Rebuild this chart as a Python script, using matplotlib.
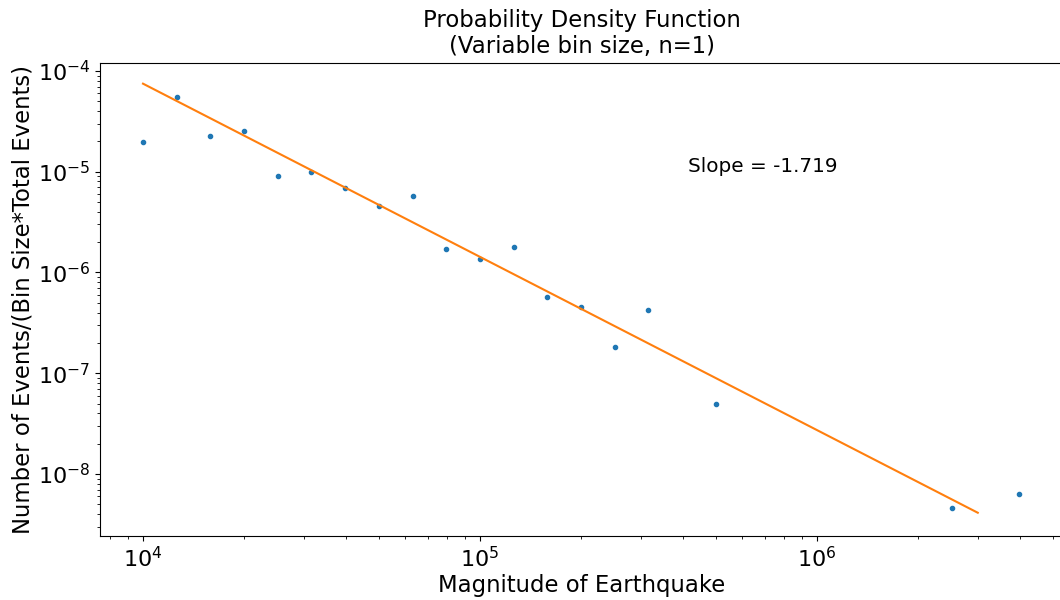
import numpy as np
import matplotlib
matplotlib.use("Agg")
import matplotlib.pyplot as plt

# Binned earthquake magnitudes (bin centres) and normalised counts
magnitude = [1.00e4, 1.26e4, 1.58e4, 2.00e4, 2.51e4, 3.16e4, 3.98e4, 5.01e4,
             6.31e4, 7.94e4, 1.00e5, 1.26e5, 1.58e5, 2.00e5, 2.51e5, 3.16e5,
             5.01e5, 2.51e6, 3.98e6]
density = [1.96e-5, 5.48e-5, 2.28e-5, 2.52e-5, 9.08e-6, 1.00e-5, 6.86e-6, 4.54e-6,
           5.74e-6, 1.70e-6, 1.35e-6, 1.80e-6, 5.71e-7, 4.58e-7, 1.81e-7, 4.27e-7,
           4.96e-8, 4.57e-9, 6.30e-9]

# Power-law fit: log10(y) = intercept + slope * log10(x)
slope = -1.719
intercept = 2.750
fit_range = [1.0e4, 3.0e6]

fig = plt.figure(figsize=(10.6, 6.0), dpi=100)
ax = fig.add_axes([100 / 1060, 1 - 536 / 600, 964 / 1060, 473 / 600])

ax.plot(magnitude, density, '.', color='#1f77b4')
fit_x = np.array(fit_range)
fit_y = 10 ** (intercept + slope * np.log10(fit_x))
ax.plot(fit_x, fit_y, '-', color='#ff7f0e', linewidth=1.5)

ax.set_xscale('log')
ax.set_yscale('log')
ax.set_xlim(10 ** 3.8724, 10 ** 6.733)
ax.set_ylim(10 ** -8.615, 10 ** -3.921)

ax.tick_params(axis='both', which='major', labelsize=16)
ax.set_xlabel('Magnitude of Earthquake', fontsize=16.4, labelpad=2)
ax.set_ylabel('Number of Events/(Bin Size*Total Events)', fontsize=16.4, labelpad=2)
ax.set_title('Probability Density Function\n(Variable bin size, n=1)',
             fontsize=16.4, pad=7)

ax.text(0.61, 0.7696, 'Slope = %.3f' % slope, transform=ax.transAxes,
        fontsize=14.4, va='baseline', ha='left')

fig.savefig('out.png', dpi=100)
